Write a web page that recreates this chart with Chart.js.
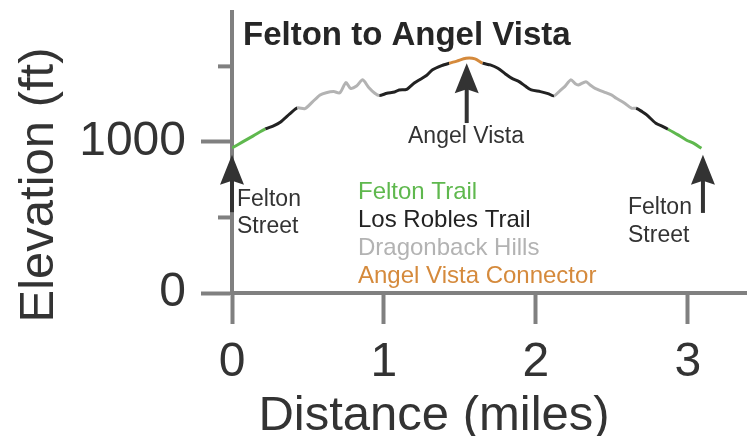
<!DOCTYPE html>
<html>
<head>
<meta charset="utf-8">
<script src="https://cdn.jsdelivr.net/npm/chart.js@4/dist/chart.umd.min.js"></script>
<style>
  html, body { margin: 0; padding: 0; background: #fff; }
  #wrap { width: 747px; height: 436px; }
</style>
</head>
<body>
<div id="wrap"><canvas id="profile"></canvas></div>
<script>
// elevation profile
const distances = [
  0.00, 0.07, 0.14, 0.22, 0.27, 0.32, 0.38, 0.43, 0.48, 0.53, 0.58, 0.62, 0.67, 0.71,
  0.75, 0.78, 0.82, 0.86, 0.90, 0.94, 0.97, 1.02, 1.07, 1.10, 1.15, 1.20, 1.24, 1.28,
  1.32, 1.38, 1.43, 1.48, 1.54, 1.60, 1.65, 1.70, 1.75, 1.80, 1.84, 1.89, 1.93, 1.97,
  2.03, 2.08, 2.12, 2.16, 2.19, 2.23, 2.26, 2.28, 2.33, 2.36, 2.39, 2.46, 2.50, 2.53,
  2.58, 2.63, 2.66, 2.70, 2.73, 2.79, 2.84, 2.87, 2.93, 2.99, 3.04, 3.09
]
const elevations = [
  960, 1000, 1040, 1086, 1105, 1132, 1185, 1225, 1220, 1265, 1311, 1326, 1333, 1325,
  1393, 1355, 1370, 1411, 1360, 1322, 1307, 1322, 1330, 1344, 1348, 1390, 1415, 1440,
  1477, 1505, 1521, 1535, 1554, 1550, 1521, 1510, 1488, 1450, 1422, 1399, 1370, 1344,
  1333, 1320, 1305, 1340, 1366, 1411, 1385, 1377, 1399, 1375, 1355, 1326, 1310, 1289,
  1260, 1223, 1223, 1200, 1179, 1124, 1100, 1084, 1050, 1013, 990, 958
]

// where each trail section ends (miles) and which trail it is
const sectionEnds = [0.22, 0.43, 0.97, 1.43, 1.65, 2.12, 2.66, 2.87, 3.09]
const sectionTrails = ['felton', 'robles', 'dragon', 'robles', 'angel', 'robles', 'dragon', 'robles', 'felton']

const trailNames = ['Felton Trail', 'Los Robles Trail', 'Dragonback Hills', 'Angel Vista Connector']
const trailKeys = ['felton', 'robles', 'dragon', 'angel']
const trailColors = { felton: '#5fb84e', robles: '#222222', dragon: '#b3b3b3', angel: '#d58a3c' }

const yTicks = [0, 500, 1000, 1500]
const xTicks = [0, 1, 2, 3]

const axisGray = '#808080'
const textColor = '#333333'

const points = distances.map((d, i) => ({ x: d, y: elevations[i] }))

const trailAt = (d) => {
  for (let i = 0; i < sectionEnds.length; i++) {
    if (d < sectionEnds[i] - 1e-6) return sectionTrails[i]
  }
  return sectionTrails[sectionTrails.length - 1]
}

// arrows: [distance, tip elevation, tail elevation]
const arrows = [[0, 915, 535], [1.545, 1520, 1125], [3.10, 915, 530]]

const decorations = {
  id: 'decorations',
  afterDraw (chart) {
    const { ctx, scales } = chart
    const x = scales.x
    const y = scales.y

    // minor y ticks
    ctx.save()
    ctx.strokeStyle = axisGray
    ctx.lineWidth = 4
    yTicks.filter(v => v % 1000 !== 0).forEach(v => {
      const py = y.getPixelForValue(v)
      ctx.beginPath()
      ctx.moveTo(x.left - 14, py)
      ctx.lineTo(x.left, py)
      ctx.stroke()
    })

    // arrows
    ctx.fillStyle = '#333'
    ctx.strokeStyle = '#333'
    arrows.forEach(([d, tip, tail]) => {
      const px = x.getPixelForValue(d)
      const pt = y.getPixelForValue(tip)
      const pb = y.getPixelForValue(tail)
      ctx.lineWidth = 4
      ctx.beginPath()
      ctx.moveTo(px, pb)
      ctx.lineTo(px, pt + 20)
      ctx.stroke()
      ctx.beginPath()
      ctx.moveTo(px, pt)
      ctx.lineTo(px - 12, pt + 30)
      ctx.lineTo(px, pt + 26)
      ctx.lineTo(px + 12, pt + 30)
      ctx.closePath()
      ctx.fill()
    })

    // title
    ctx.fillStyle = '#262626'
    ctx.textBaseline = 'alphabetic'
    ctx.textAlign = 'left'
    ctx.font = 'bold 33px "Liberation Sans", Arial, sans-serif'
    ctx.fillText('Felton to Angel Vista', 243, 45)

    // labels
    ctx.fillStyle = textColor
    ctx.font = '23px "Liberation Sans", Arial, sans-serif'
    ctx.fillText('Felton', 237, 206)
    ctx.fillText('Street', 237, 233)
    ctx.fillText('Felton', 628, 214)
    ctx.fillText('Street', 628, 242)
    ctx.textAlign = 'center'
    ctx.fillText('Angel Vista', 466, 143)

    // legend
    ctx.textAlign = 'left'
    ctx.font = '24px "Liberation Sans", Arial, sans-serif'
    trailKeys.forEach((k, i) => {
      ctx.fillStyle = trailColors[k]
      ctx.fillText(trailNames[i], 358, 199 + i * 28)
    })

    // axis titles
    ctx.fillStyle = textColor
    ctx.font = '49px "Liberation Sans", Arial, sans-serif'
    ctx.textAlign = 'center'
    ctx.fillText('Distance (miles)', 434, 430)
    ctx.translate(53, 185)
    ctx.rotate(-Math.PI / 2)
    ctx.fillText('Elevation (ft)', 0, 0)
    ctx.restore()
  }
}

new Chart(document.getElementById('profile'), {
  type: 'line',
  data: {
    datasets: [{
      data: points,
      borderWidth: 3,
      pointRadius: 0,
      tension: 0.25,
      fill: false,
      segment: {
        borderColor: (c) => trailColors[trailAt(c.p0.parsed.x)]
      }
    }]
  },
  options: {
    responsive: true,
    maintainAspectRatio: false,
    animation: false,
    layout: { padding: { top: 12, left: 0, right: 0, bottom: 0 } },
    plugins: { legend: { display: false }, tooltip: { enabled: false } },
    scales: {
      x: {
        type: 'linear',
        min: 0,
        max: 3.39,
        afterBuildTicks: (axis) => { axis.ticks = xTicks.map(v => ({ value: v })) },
        afterFit: (axis) => {
          axis.height = 143
          axis.paddingLeft = 0
          axis.paddingRight = 0
        },
        border: { color: axisGray, width: 4 },
        grid: { drawOnChartArea: false, tickLength: 31, tickColor: axisGray, tickWidth: 4 },
        ticks: {
          padding: 10,
          maxRotation: 0,
          color: textColor,
          font: { family: '"Liberation Sans", Arial, sans-serif', size: 48 }
        }
      },
      y: {
        min: 0,
        max: 1860,
        afterBuildTicks: (axis) => { axis.ticks = yTicks.map(v => ({ value: v })) },
        afterFit: (axis) => {
          axis.width = 232
          axis.paddingTop = 0
          axis.paddingBottom = 0
        },
        border: { color: axisGray, width: 4 },
        grid: {
          drawOnChartArea: false,
          tickLength: 31,
          tickWidth: 4,
          tickColor: (c) => (c.tick && c.tick.value % 1000 === 0) ? axisGray : 'rgba(0,0,0,0)'
        },
        ticks: {
          padding: 15,
          color: textColor,
          font: { family: '"Liberation Sans", Arial, sans-serif', size: 48 },
          callback: (v) => v % 1000 === 0 ? v : ''
        }
      }
    }
  },
  plugins: [decorations]
})
</script>
</body>
</html>
